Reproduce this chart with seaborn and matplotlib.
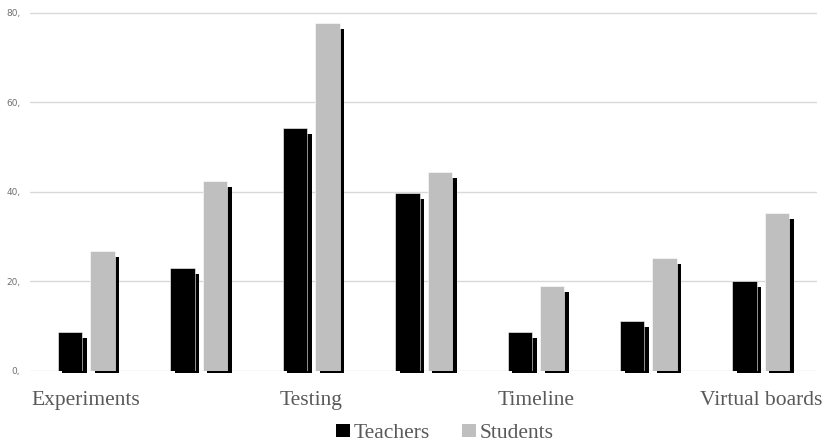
import matplotlib
matplotlib.use('Agg')
import matplotlib.pyplot as plt
import pandas as pd
import seaborn as sns
from matplotlib.patches import Rectangle

categories = ['Experiments', 'Category 2', 'Testing', 'Category 4',
              'Timeline', 'Category 6', 'Virtual boards']
tick_labels = ['Experiments', '', 'Testing', '', 'Timeline', '', 'Virtual boards']
teachers = [8.6, 22.9, 54.2, 39.8, 8.6, 11.2, 20.0]
students = [26.8, 42.4, 77.8, 44.5, 19.0, 25.2, 35.2]
series = ['Teachers', 'Students']
yticks = [0, 20, 40, 60, 80]
ytick_labels = ['0,', '20,', '40,', '60,', '80,']

df = pd.DataFrame({
    'category': categories * 2,
    'group': ['Teachers'] * len(categories) + ['Students'] * len(categories),
    'value': teachers + students,
})

sns.set_style('white')
plt.rcParams['font.family'] = ['DejaVu Sans']

fig = plt.figure(figsize=(8.25, 4.44), dpi=100)
ax = fig.add_axes([0.0364, 0.1651, 0.954, 0.8164])

sns.barplot(data=df, x='category', y='value', hue='group', order=categories,
            hue_order=series, palette=['black', '#bfbfbf'], width=0.576,
            gap=0.246, edgecolor='white', linewidth=0.4, ax=ax, zorder=2)

# drop shadow behind each bar
for p in list(ax.patches):
    h = p.get_height()
    if h <= 0:
        continue
    sh = Rectangle((p.get_x() + 0.041, -0.45), p.get_width(), h - 0.9,
                   facecolor='black', edgecolor='none', zorder=1.5, clip_on=False)
    ax.add_patch(sh)

ax.set_xlim(-0.5, 6.5)
ax.set_ylim(0, 81)
ax.set_yticks(yticks)
ax.set_yticklabels(ytick_labels, fontsize=6.5, color='#707070')
ax.set_xticks(range(len(categories)))
ax.set_xticklabels(tick_labels, fontsize=15.5, color='#595959',
                   family=['Liberation Serif', 'DejaVu Serif'])
ax.tick_params(axis='x', length=0, pad=14.5)
ax.tick_params(axis='y', length=0, pad=7)
ax.set_xlabel('')
ax.set_ylabel('')
ax.grid(axis='y', color='#d9d9d9', linewidth=1)
ax.set_axisbelow(True)
for s in ax.spines.values():
    s.set_visible(False)

handles, labels = ax.get_legend_handles_labels()
leg = ax.legend(handles[:2], labels[:2], loc='lower center',
                bbox_to_anchor=(0.539, -0.027), bbox_transform=fig.transFigure,
                ncol=2, frameon=False, handlelength=0.65, handleheight=0.5,
                handletextpad=0.15, columnspacing=1.5, borderpad=0.1,
                prop={'family': ['Liberation Serif', 'DejaVu Serif'], 'size': 15.5})
for t in leg.get_texts():
    t.set_color('#595959')
for h in leg.legend_handles:
    h.set_edgecolor('none')

fig.savefig('out.png', dpi=100)
